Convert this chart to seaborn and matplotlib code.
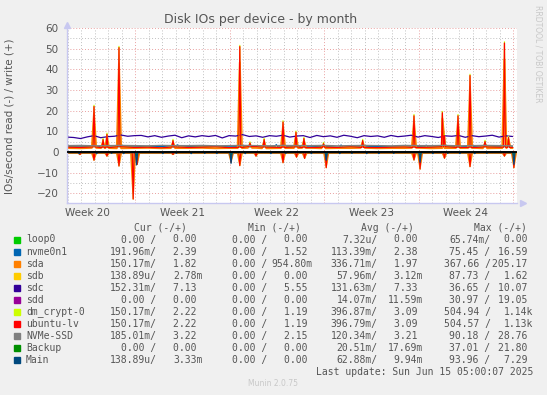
#!/usr/bin/env python3
# Disk IOs per device - by month (munin style), redrawn with seaborn
import numpy as np
import pandas as pd
import matplotlib
matplotlib.use("Agg")
import matplotlib.pyplot as plt
import seaborn as sns

# ---- data (x in days from the left edge of the graph) ----
days = np.arange(0, 34)

# daily baseline, write side (+)
ubuntu_w = [2.3, 2.2, 2.4, 2.1, 2.5, 2.2, 2.3, 2.0, 2.4, 2.2, 2.3, 2.5, 2.1, 2.2, 2.6, 2.3, 2.2,
            2.4, 2.1, 2.3, 2.2, 2.5, 2.2, 2.1, 2.3, 2.4, 2.2, 2.3, 2.5, 2.2, 2.1, 2.4, 2.3, 2.2]
sda_w = [1.9, 1.8, 2.0, 1.9, 1.8, 1.9, 2.0, 1.8, 1.9, 1.9, 2.0, 1.8, 1.9, 1.9, 2.0, 1.8, 1.9,
         1.9, 2.0, 1.8, 1.9, 1.9, 2.0, 1.8, 1.9, 1.9, 2.0, 1.8, 1.9, 1.9, 2.0, 1.8, 1.9, 1.9]
nvme_w = [2.6, 2.5, 2.7, 2.4, 2.6, 2.5, 2.7, 2.6, 2.4, 2.6, 2.5, 2.8, 2.5, 2.6, 2.4, 2.7, 2.5,
          2.6, 2.5, 2.7, 2.4, 2.6, 2.5, 2.7, 2.6, 2.4, 2.6, 2.5, 2.8, 2.5, 2.6, 2.4, 2.7, 2.5]
ssd_w = [3.1, 3.2, 3.0, 3.1, 3.2, 3.1, 3.0, 3.2, 3.1, 3.1, 3.2, 3.0, 3.1, 3.2, 3.1, 3.0, 3.2,
         3.1, 3.1, 3.2, 3.0, 3.1, 3.2, 3.1, 3.0, 3.2, 3.1, 3.1, 3.2, 3.0, 3.1, 3.2, 3.1, 3.0]
small_w = [0.0] * 34

# sdc write, half-day resolution (wobbly purple line)
half_days = np.arange(0, 33.5, 0.5)
sdc_w = [7.2, 7.0, 6.5, 7.3, 7.9, 6.9, 7.4, 7.6, 8.2, 7.6, 7.9, 8.0, 7.3, 7.9, 7.1, 7.7, 8.1,
         6.9, 7.8, 7.3, 7.9, 7.5, 8.0, 6.8, 7.9, 7.7, 8.4, 7.5, 7.8, 7.1, 7.9, 7.6, 8.1, 7.2,
         7.7, 7.9, 7.0, 8.0, 7.4, 7.8, 7.1, 8.1, 7.6, 6.9, 7.9, 7.5, 7.8, 7.1, 8.0, 7.4, 7.7,
         8.1, 7.2, 7.9, 7.5, 7.0, 7.8, 7.6, 8.0, 7.1, 7.9, 7.4, 7.7, 8.1, 7.2, 7.8, 7.5]

# daily baseline, read side (-)
ubuntu_r = [-0.4] * 34
sda_r = [-0.35] * 34
nvme_r = [-0.1] * 34
ssd_r = [-0.12] * 34
zero_r = [-0.02] * 34

# spikes: (day, value)
ubuntu_w_spikes = [(2.0, 22), (2.67, 6), (2.96, 8.5), (3.85, 50.5), (7.85, 5.5), (12.8, 51),
                   (13.55, 4.3), (14.6, 6), (16.0, 14.5), (16.96, 9.5), (17.55, 6.5), (19.0, 4),
                   (21.9, 5.5), (25.7, 17.5), (27.8, 19), (27.95, 8), (28.96, 17.5), (29.85, 37),
                   (30.96, 5), (32.4, 52.7), (32.7, 7)]
ubuntu_r_spikes = [(0.96, -1.2), (2.0, -4), (2.96, -2), (3.85, -6.8), (4.9, -22.8), (5.2, -6),
                   (7.85, -1.2), (12.15, -5), (12.8, -6.6), (14.0, -2), (16.0, -5.2), (17.0, -2.5),
                   (17.6, -3.1), (19.2, -7.6), (25.7, -3.9), (26.15, -8.3), (27.96, -3),
                   (29.85, -7.1), (32.4, -2), (33.1, -7.6)]
main_r_spikes = [(0.9, -0.8), (2.2, -0.8), (3.3, -0.7), (4.2, -0.8), (5.15, -6.3), (7.1, -0.8),
                 (8.1, -0.7), (9.2, -0.8), (10.2, -0.7), (11.1, -0.8), (12.15, -5.5), (13.2, -0.8),
                 (15.1, -0.8), (16.2, -0.7), (18.1, -0.8), (19.2, -4), (20.2, -0.8), (21.1, -0.7),
                 (22.2, -0.8), (23.1, -0.8), (24.2, -0.7), (26.15, -5), (27.1, -0.8), (28.2, -0.7),
                 (29.1, -0.8), (30.2, -0.8), (31.1, -0.7), (33.1, -6)]
nvme_w_spikes = [(8.2, 3.5), (15.5, 3.6), (20.3, 3.4), (26.6, 3.3), (31.0, 3.5)]

names = ["loop0", "nvme0n1", "sda", "sdb", "sdc", "sdd", "dm_crypt-0", "ubuntu-lv",
         "NVMe-SSD", "Backup", "Main"]
colors = ["#00CC00", "#0066B3", "#FF8000", "#FFCC00", "#330099", "#990099", "#CCFF00",
          "#FF0000", "#808080", "#008F00", "#00487D"]
cur_r = ["0.00 ", "191.96m", "150.17m", "138.89u", "152.31m", "0.00 ", "150.17m", "150.17m",
         "185.01m", "0.00 ", "138.89u"]
cur_w = ["0.00 ", "2.39 ", "1.82 ", "2.78m", "7.13 ", "0.00 ", "2.22 ", "2.22 ", "3.22 ",
         "0.00 ", "3.33m"]
min_r = ["0.00 "] * 11
min_w = ["0.00 ", "1.52 ", "954.80m", "0.00 ", "5.55 ", "0.00 ", "1.19 ", "1.19 ", "2.15 ",
         "0.00 ", "0.00 "]
avg_r = ["7.32u", "113.39m", "336.71m", "57.96m", "131.63m", "14.07m", "396.87m", "396.79m",
         "120.34m", "20.51m", "62.88m"]
avg_w = ["0.00 ", "2.38 ", "1.97 ", "3.12m", "7.33 ", "11.59m", "3.09 ", "3.09 ", "3.21 ",
         "17.69m", "9.94m"]
max_r = ["65.74m", "75.45 ", "367.66 ", "87.73 ", "36.65 ", "30.97 ", "504.94 ", "504.57 ",
         "90.18 ", "37.01 ", "93.96 "]
max_w = ["0.00 ", "16.59 ", "205.17 ", "1.62 ", "10.07 ", "19.05 ", "1.14k", "1.13k",
         "28.76 ", "21.80 ", "7.29 "]

week_labels = ["Week 20", "Week 21", "Week 22", "Week 23", "Week 24"]
week_starts = [5.04, 12.04, 19.04, 26.04, 33.04]


def build(base_x, base_y, spikes, width):
    # baseline points plus narrow spikes, returned as a frame for seaborn
    pts = [(x, y) for x, y in zip(base_x, base_y)
           if all(abs(x - d) > width for d, _ in spikes)]
    for d, peak in spikes:
        b = base_y[min(int(round(d)), len(base_y) - 1)]
        pts += [(d - width, b), (d, peak), (d + width, b)]
    pts.sort()
    return pd.DataFrame(pts, columns=["day", "val"])


def scale(spikes, f, extra=0.0):
    return [(d, v * f + extra) for d, v in spikes]


W, H = 547, 395
fig = plt.figure(figsize=(W / 100, H / 100), dpi=100)
sns.set_theme(style="white")
plt.rcParams["font.family"] = ["DejaVu Sans"]
fig.patch.set_facecolor("#F0F0F0")
ax = fig.add_axes([67 / W, 1 - 203 / H, 450 / W, 175 / H])
ax.set_facecolor("white")

txt = "#555555"


def line(df, c, lw=0.9, z=2):
    sns.lineplot(data=df, x="day", y="val", ax=ax, color=c, lw=lw, estimator=None,
                 sort=False, zorder=z, legend=False)


# draw in munin order
line(build(days, small_w, [], 0.1), colors[0])                                   # loop0
line(build(days, zero_r, [], 0.1), colors[0])
line(build(days, nvme_w, nvme_w_spikes, 0.1), colors[1])                        # nvme0n1
line(build(days, nvme_r, scale(main_r_spikes, 0.8), 0.08), colors[1])
line(build(days, sda_w, scale(ubuntu_w_spikes, 0.85), 0.16), colors[2], lw=1.4)  # sda
line(build(days, sda_r, scale(ubuntu_r_spikes, 0.85), 0.16), colors[2], lw=1.4)
line(build(days, small_w, [], 0.1), colors[3])                                   # sdb
line(build(half_days, sdc_w, [], 0.1), colors[4])                               # sdc
line(build(days, small_w, [], 0.1), colors[5])                                   # sdd
line(build(days, ubuntu_w, scale(ubuntu_w_spikes, 1.0, 0.6), 0.07), colors[6])   # dm_crypt-0
line(build(days, ubuntu_r, ubuntu_r_spikes, 0.07), colors[6])
line(build(days, ubuntu_w, ubuntu_w_spikes, 0.07), colors[7])                    # ubuntu-lv
line(build(days, ubuntu_r, ubuntu_r_spikes, 0.07), colors[7])
line(build(days, ssd_w, [], 0.1), colors[8])                                     # NVMe-SSD
line(build(days, ssd_r, scale(main_r_spikes, 0.5), 0.08), colors[8])
line(build(days, small_w, [], 0.1), colors[9])                                   # Backup
line(build(days, zero_r, scale(main_r_spikes, 0.3), 0.08), colors[9])
line(build(days, small_w, [], 0.1), colors[10])                                  # Main
line(build(days, zero_r, main_r_spikes, 0.08), colors[10])
ax.axhline(0, color="black", lw=1.3, zorder=5)

# axes, grid
ax.set_xlim(0, 33.33)
ax.set_ylim(-24.7, 60)
ax.set_xticks(week_starts)
ax.set_xticks(np.arange(0.04, 33.3, 1), minor=True)
ax.set_xticklabels([])
ax.set_yticks(np.arange(-20, 61, 10))
ax.set_yticks(np.arange(-20, 61, 5), minor=True)
ax.grid(which="minor", color="#C0C0C0", lw=0.7, ls=(0, (1, 2)), zorder=0)
ax.grid(which="major", color="#E8A0A0", lw=0.7, ls=(0, (1, 2)), zorder=0)
ax.tick_params(axis="y", which="both", length=0, pad=6, labelsize=7.5, labelcolor=txt)
ax.tick_params(axis="x", which="both", length=2, color="#C8C8C8", labelsize=7.5)
ax.set_xlabel("")
ax.set_ylabel("")
for s in ["top", "right"]:
    ax.spines[s].set_visible(False)
for s in ["left", "bottom"]:
    ax.spines[s].set_color("#C8C8F0")
    ax.spines[s].set_linewidth(1.0)
ax.plot([0], [1.02], marker="^", color="#C8C8F0", ms=4, transform=ax.transAxes, clip_on=False)
ax.plot([1.013], [0], marker=">", color="#C8C8F0", ms=4, transform=ax.transAxes, clip_on=False)
for d, lab in zip(week_starts, week_labels):
    ax.text(d - 3.5, -0.03, lab, transform=ax.get_xaxis_transform(), ha="center", va="top",
            fontsize=7.5, color=txt)


def ftext(x, y, s, **kw):
    fig.text(x / W, 1 - y / H, s, **kw)


ftext(261, 19, "Disk IOs per device - by month", ha="center", va="center", fontsize=9, color=txt)
ftext(10, 116, "IOs/second read (-) / write (+)", ha="center", va="center", rotation=90,
      fontsize=7.5, color=txt)
ftext(538, 5, "RRDTOOL / TOBI OETIKER", ha="center", va="top", rotation=270, fontsize=5.5,
      color="#C8C8C8")

mono = dict(family="DejaVu Sans Mono", fontsize=7, color=txt, va="center")
ftext(187, 228, "Cur (-/+)", ha="right", **mono)
ftext(300.5, 228, "Min (-/+)", ha="right", **mono)
ftext(413.5, 228, "Avg (-/+)", ha="right", **mono)
ftext(527, 228, "Max (-/+)", ha="right", **mono)
for i, n in enumerate(names):
    y = 239.5 + 12.04 * i
    fig.patches.append(plt.Rectangle((14 / W, 1 - (y + 3) / H), 6 / W, 6 / H,
                                     transform=fig.transFigure, color=colors[i]))
    ftext(26, y, n, ha="left", **mono)
    ftext(156.5, y, cur_r[i] + "/", ha="right", **mono)
    ftext(202.5, y, cur_w[i], ha="right", **mono)
    ftext(267, y, min_r[i] + "/", ha="right", **mono)
    ftext(313, y, min_w[i], ha="right", **mono)
    ftext(377.5, y, avg_r[i] + "/", ha="right", **mono)
    ftext(423, y, avg_w[i], ha="right", **mono)
    ftext(490.5, y, max_r[i] + "/", ha="right", **mono)
    ftext(533, y, max_w[i], ha="right", **mono)
ftext(533, 372, "Last update: Sun Jun 15 05:00:07 2025", ha="right", **mono)
ftext(272.5, 384, "Munin 2.0.75", ha="center", va="center", fontsize=5.5, color="#C8C8C8")

fig.savefig("out.png", dpi=100, facecolor=fig.get_facecolor())
